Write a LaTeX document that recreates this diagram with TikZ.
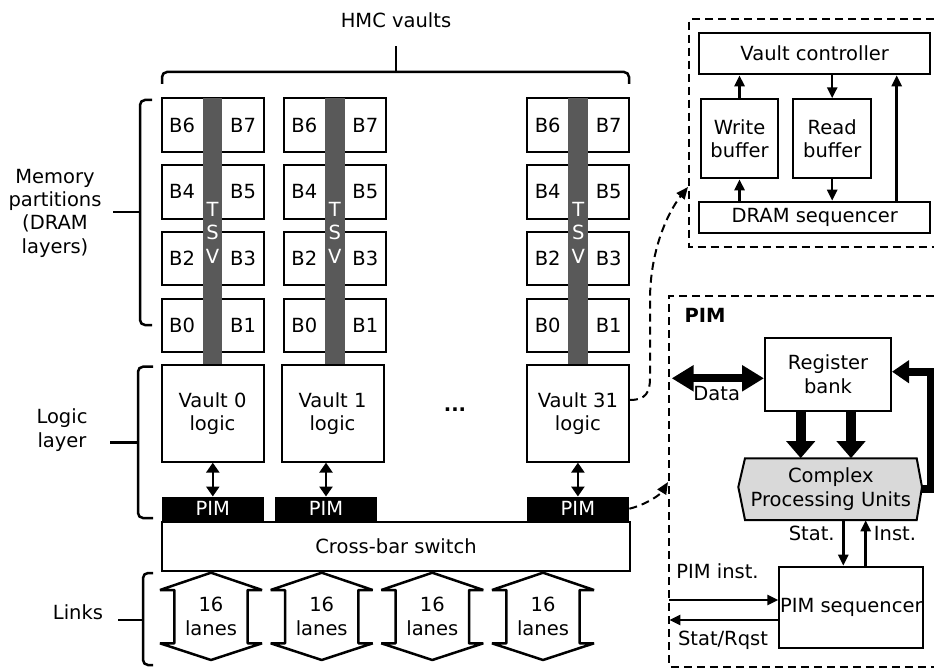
\documentclass[tikz,border=0pt]{standalone}
\usepackage{fontspec}
\setmainfont{DejaVu Sans}
\usetikzlibrary{arrows.meta}
\definecolor{tsvgray}{HTML}{595959}
\definecolor{cpugray}{HTML}{D9D9D9}
\begin{document}
\begin{tikzpicture}[x=1pt,y=-1pt,
  every node/.style={font=\fontsize{19.5}{23.3}\selectfont, inner sep=0pt},
  bank/.style={draw, line width=2pt, minimum width=102pt, minimum height=53.5pt},
  tsvbar/.style={fill=tsvgray, minimum width=19.5pt, minimum height=266.7pt},
  logicbox/.style={draw, line width=2pt, minimum width=102pt, minimum height=96.7pt, align=center},
  pimbox/.style={fill=black, text=white, minimum width=102.5pt, minimum height=24pt},
  box/.style={draw, line width=2pt, align=center},
  bracepath/.style={line width=2.5pt, rounded corners=5pt},
  dblarr/.style={line width=2.5pt, {Triangle[length=10pt,width=13pt]}-{Triangle[length=10pt,width=13pt]}},
  thinarr/.style={line width=2.5pt, -{Triangle[length=11pt,width=10pt]}},
  fatarr/.style={line width=10pt, -{Triangle[length=17pt,width=28pt]}},
  dataarr/.style={line width=8pt, {Triangle[length=22pt,width=25pt]}-{Triangle[length=22pt,width=25pt]}},
  fbarr/.style={line width=8pt, -{Triangle[length=17pt,width=22pt]}},
  dashbox/.style={line width=2pt, dash pattern=on 8pt off 5pt},
  dashcurve/.style={line width=2pt, dash pattern=on 8pt off 5pt, -{Triangle[length=12pt,width=10pt]}},
  linkshape/.style={draw, line width=2.5pt, line join=bevel}
]
\useasboundingbox (0,0) rectangle (934,668);

% ---------- top brace ----------
\node (hmc) at (396,20) {HMC vaults};
\draw[bracepath] (162,84) -- (162,72) -- (629,72) -- (629,84);
\draw[line width=2.5pt] (396,72) -- (396,46);

% ---------- left braces & labels ----------
\draw[bracepath] (152,100) -- (140,100) -- (140,325) -- (152,325);
\draw[line width=2.5pt] (140,212) -- (113,212);
\node[align=center] (memlbl) at (55,213) {Memory\\partitions\\(DRAM\\layers)};

\draw[bracepath] (153,366.7) -- (138,366.7) -- (138,518) -- (153,518);
\draw[line width=2.5pt] (138,442.7) -- (110,442.7);
\node[align=center] (loglbl) at (62,430) {Logic\\layer};

\draw[bracepath] (153,573) -- (143,573) -- (143,665) -- (153,665);
\draw[line width=2.5pt] (143,620) -- (118,620);
\node (linklbl) at (78,612) {Links};

% ---------- memory banks ----------
\foreach \c/\cx in {1/212.6, 2/334.8, 3/578.2} {
  \foreach \r/\ry/\la/\lb in {1/125/B6/B7, 2/191.8/B4/B5, 3/258.7/B2/B3, 4/325.3/B0/B1} {
    \node[bank] (b\c\r) at (\cx,\ry) {};
    \node (bl\c\r) at (\cx-30.5,\ry) {\la};
    \node (br\c\r) at (\cx+30.5,\ry) {\lb};
  }
  \node[tsvbar] (tsv\c) at (\cx,231.7) {};
  \node[text=white] (tsvT\c) at (\cx,209) {T};
  \node[text=white] (tsvS\c) at (\cx,232.5) {S};
  \node[text=white] (tsvV\c) at (\cx,256) {V};
}

% ---------- vault logic ----------
\node[logicbox] (v0) at (212.5,413.3) {Vault 0\\logic};
\node[logicbox] (v1) at (332.5,413.3) {Vault 1\\logic};
\node[logicbox] (v31) at (577.9,413.3) {Vault 31\\logic};
\node[font=\fontsize{19.5}{23.3}\selectfont\bfseries] (dots) at (455,410) {...};

\node[pimbox] (p0) at (212.8,508.7) {PIM};
\node[pimbox] (p1) at (326,508.7) {PIM};
\node[pimbox] (p31) at (577.9,508.7) {PIM};

\draw[dblarr] (p0.north |- v0.south) -- (p0.north);
\draw[dblarr] (p1.north |- v1.south) -- (p1.north);
\draw[dblarr] (p31.north |- v31.south) -- (p31.north);

% ---------- crossbar ----------
\node[box, minimum width=468pt, minimum height=48.4pt] (xbar) at (396,546.5) {Cross-bar switch};

% ---------- links ----------
\foreach \i/\lx in {1/211,2/321.7,3/432.3,4/543} {
  \draw[linkshape] (\lx,572.7) -- (\lx-51,590) -- (\lx-36.7,590) -- (\lx-36.7,643.3)
     -- (\lx-51,643.3) -- (\lx,660) -- (\lx+51,643.3) -- (\lx+36.7,643.3)
     -- (\lx+36.7,590) -- (\lx+51,590) -- cycle;
  \node[align=center] (lane\i) at (\lx,616.5) {16\\lanes};
}

% ---------- vault controller detail ----------
\draw[dashbox] (934,19.3) -- (689.3,19.3) -- (689.3,247.3) -- (934,247.3);
\node[box, minimum width=230.7pt, minimum height=41.6pt] (vc) at (814.7,53.5) {Vault controller};
\node[box, minimum width=77.6pt, minimum height=79pt] (wb) at (739.5,138.8) {Write\\buffer};
\node[box, minimum width=77.6pt, minimum height=79pt] (rb) at (832.2,138.8) {Read\\buffer};
\node[box, minimum width=230.7pt, minimum height=31pt] (ds) at (814.7,217.2) {DRAM sequencer};
\coordinate (xr) at (896.7,0);
\draw[thinarr] (wb.north) -- (wb.north |- vc.south);
\draw[thinarr] (wb.south |- ds.north) -- (wb.south);
\draw[thinarr] (rb.north |- vc.south) -- (rb.north);
\draw[thinarr] (rb.south) -- (rb.south |- ds.north);
\draw[thinarr] (ds.north -| xr) -- (vc.south -| xr);

% ---------- PIM detail ----------
\draw[dashbox] (934,296) -- (669.3,296) -- (669.3,666.7) -- (934,666.7);
\node[font=\fontsize{19.5}{23.3}\selectfont\bfseries] (pimlbl) at (705,315) {PIM};
\node[box, minimum width=126pt, minimum height=73pt] (reg) at (828,374.2) {Register\\bank};

\draw[line width=2pt, fill=cpugray, line join=miter] (745,458.3) -- (916.7,458.3) -- (922,487) -- (916.7,520) -- (745,520) -- (738.3,487) -- cycle;
\node[minimum width=171.7pt, minimum height=61.7pt, align=center] (cpu) at (830.8,489.2) {Complex\\Processing Units};
\coordinate (cpuR) at (922,489);

\coordinate (ta1) at (800.7,0);
\coordinate (ta2) at (851,0);
\draw[fatarr] (reg.south -| ta1) -- (cpu.north -| ta1);
\draw[fatarr] (reg.south -| ta2) -- (cpu.north -| ta2);

\coordinate (dataL) at (671.7,378.3);
\draw[dataarr] (dataL) -- (reg.west |- dataL);
\node (datalbl) at (716.7,394) {Data};

\coordinate (fbR1) at (931,489);
\coordinate (fbR2) at (931,371.7);
\draw[fbarr, line join=miter] (cpuR) -- (fbR1) -- (fbR2) -- (reg.east |- fbR2);

\node[box, minimum width=144pt, minimum height=81.6pt] (seq) at (851.3,607.5) {PIM sequencer};
\coordinate (xs) at (843.3,0);
\coordinate (xi) at (865.7,0);
\draw[thinarr] (cpu.south -| xs) -- (seq.north -| xs);
\draw[thinarr] (seq.north -| xi) -- (cpu.south -| xi);
\node (statlbl) at (811.7,533.3) {Stat.};
\node (instlbl) at (895,533.3) {Inst.};

\coordinate (pinL) at (669.3,600);
\coordinate (srL) at (669.3,620);
\draw[thinarr] (pinL) -- (seq.west |- pinL);
\draw[thinarr] (seq.west |- srL) -- (srL);
\node (pinlbl) at (717.5,571.7) {PIM inst.};
\node (srlbl) at (723,640) {Stat/Rqst};

% ---------- dashed links ----------
\coordinate (c1end) at (688,187);
\coordinate (c2end) at (668,482);
\draw[dashcurve] (v31.east |- 0,400) .. controls (646,400) and (650,392) .. (650,378)
   -- (650,300) .. controls (650,250) and (668,212) .. (c1end);
\draw[dashcurve] (p31.east) .. controls (645,505) and (660,495) .. (c2end);
\end{tikzpicture}
\end{document}
